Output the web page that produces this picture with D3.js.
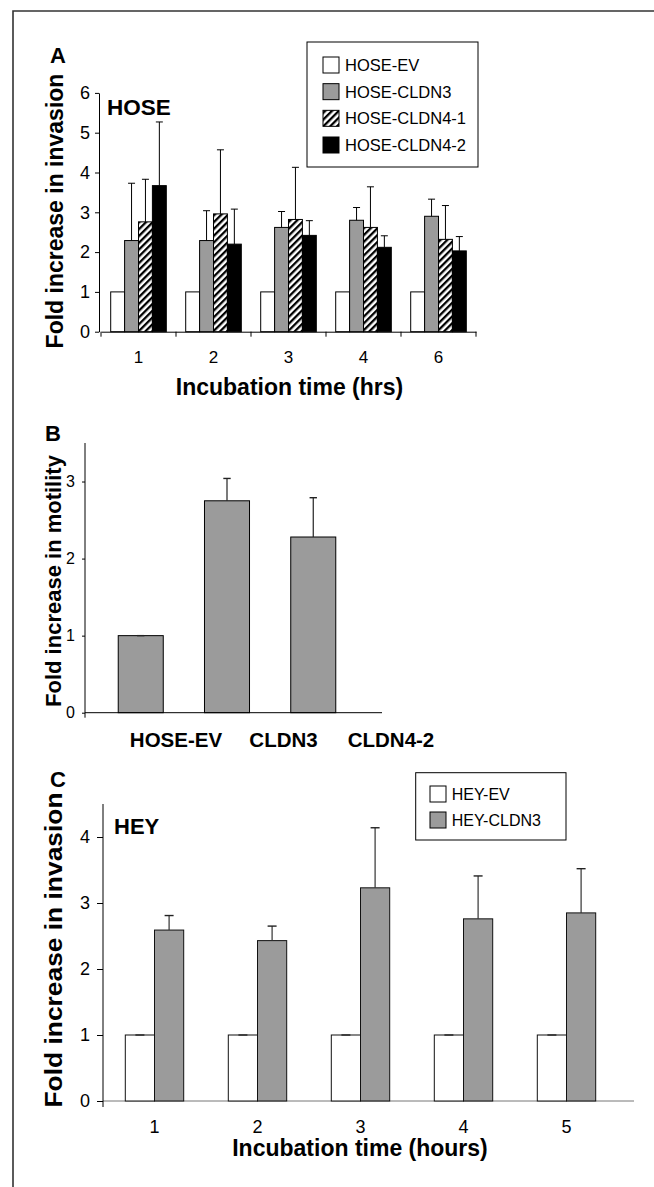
<!DOCTYPE html>
<html><head><meta charset="utf-8">
<script src="https://cdn.jsdelivr.net/npm/d3@7"></script>
<style>body{margin:0;background:#fff}svg{display:block}text{font-family:"Liberation Sans",Arial,sans-serif;fill:#000}</style>
</head><body><svg id="c" width="654" height="1187"></svg>
<script>
// ---------- DATA ----------
const timesA = ["1","2","3","4","6"];
const seriesA = ["HOSE-EV","HOSE-CLDN3","HOSE-CLDN4-1","HOSE-CLDN4-2"];
const evA = [1,1,1,1,1];
const cldn3A = [2.29,2.29,2.62,2.80,2.90];
const cldn3ErrA = [1.44,0.75,0.40,0.32,0.43];
const cldn41A = [2.76,2.96,2.82,2.62,2.32];
const cldn41ErrA = [1.07,1.61,1.31,1.02,0.85];
const cldn42A = [3.67,2.20,2.42,2.12,2.03];
const cldn42ErrA = [1.60,0.88,0.37,0.29,0.36];
const ticksA = [0,1,2,3,4,5,6];

const catsB = ["HOSE-EV","CLDN3","CLDN4-2"];
const meansB = [1,2.75,2.28];
const errsB = [0,0.29,0.51];
const ticksB = [0,1,2,3];

const timesC = ["1","2","3","4","5"];
const seriesC = ["HEY-EV","HEY-CLDN3"];
const evC = [1,1,1,1,1];
const evErrC = [0,0,0,0,0];
const cldn3C = [2.59,2.43,3.23,2.76,2.85];
const cldn3ErrC = [0.22,0.22,0.91,0.65,0.67];
const ticksC = [0,1,2,3,4];

// ---------- SETUP ----------
const svg = d3.select("#c");
const GRAY = "#9b9b9b";
const fmt = d3.format("d");
const defs = svg.append("defs");
const pat = defs.append("pattern").attr("id","hatch").attr("patternUnits","userSpaceOnUse")
  .attr("width",4.8).attr("height",4.8).attr("patternTransform","rotate(45)");
pat.append("rect").attr("width",4.8).attr("height",4.8).attr("fill","#fff");
pat.append("rect").attr("width",2.3).attr("height",4.8).attr("fill","#000");

// outer frame
svg.append("path").attr("d","M13,1200 L13,11 L700,11").attr("fill","none").attr("stroke","#333").attr("stroke-width",1.6);

const fills = {"HOSE-EV":"#fff","HOSE-CLDN3":GRAY,"HOSE-CLDN4-1":"url(#hatch)","HOSE-CLDN4-2":"#000","HEY-EV":"#fff","HEY-CLDN3":GRAY};
function styleTicks(sel, size){
  sel.selectAll("text").style("font-size",size+"px").style("font-family","'Liberation Sans',Arial,sans-serif").attr("fill","#000");
}

// ---------- PANEL A ----------
{
  const y = d3.scaleLinear().domain([0,6]).range([331.7,92.9]);
  const x = d3.scaleBand().domain(timesA).range([101,476]);
  const xi = d3.scaleBand().domain(seriesA).range([9.7,65.3]);
  const g = svg.append("g");
  const rows = [];
  const vals = [evA,cldn3A,cldn41A,cldn42A];
  const errs = [null,cldn3ErrA,cldn41ErrA,cldn42ErrA];
  timesA.forEach((t,i)=>seriesA.forEach((s,j)=>rows.push({t,s,v:vals[j][i],e:errs[j]?errs[j][i]:null})));
  g.selectAll("rect.bar").data(rows).join("rect").attr("class","bar")
    .attr("x",d=>x(d.t)+xi(d.s)).attr("width",xi.bandwidth())
    .attr("y",d=>y(d.v)).attr("height",d=>y(0)-y(d.v))
    .attr("fill",d=>fills[d.s]).attr("stroke","#000").attr("stroke-width",1);
  const eb = rows.filter(d=>d.e!==null);
  g.selectAll("line.ev").data(eb).join("line").attr("stroke","#000").attr("stroke-width",1)
    .attr("x1",d=>x(d.t)+xi(d.s)+xi.bandwidth()/2).attr("x2",d=>x(d.t)+xi(d.s)+xi.bandwidth()/2)
    .attr("y1",d=>y(d.v)).attr("y2",d=>y(d.v+d.e));
  g.selectAll("line.cap").data(eb).join("line").attr("stroke","#000").attr("stroke-width",1)
    .attr("x1",d=>x(d.t)+xi(d.s)+xi.bandwidth()/2-3.5).attr("x2",d=>x(d.t)+xi(d.s)+xi.bandwidth()/2+3.5)
    .attr("y1",d=>y(d.v+d.e)).attr("y2",d=>y(d.v+d.e));
  // y axis
  const ya = g.append("g").attr("transform",`translate(${x.range()[0]-2},0)`)
    .call(d3.axisLeft(y).tickValues(ticksA).tickFormat(fmt).tickSize(4).tickSizeOuter(0).tickPadding(5));
  styleTicks(ya,18);
  ya.selectAll("line,path").attr("stroke","#000");
  // x axis
  const xa = g.append("g").attr("transform",`translate(0,${y(0)})`)
    .call(d3.axisBottom(x).tickSize(0).tickPadding(19));
  xa.select("path").attr("stroke","#000");
  styleTicks(xa,17);
  const bounds = timesA.map(t=>x(t)).concat([x.range()[1]]);
  g.selectAll("line.xt").data(bounds).join("line").attr("stroke","#000")
    .attr("x1",d=>d).attr("x2",d=>d).attr("y1",y(0)).attr("y2",y(0)+5);
  g.append("text").attr("x",(x.range()[0]+x.range()[1])/2+1).attr("y",395).attr("text-anchor","middle")
    .attr("font-size",23).attr("font-weight","bold").text("Incubation time (hrs)");
  g.append("text").attr("transform","translate(63,211) rotate(-90)").attr("text-anchor","middle")
    .attr("font-size",23).attr("font-weight","bold").text("Fold increase in invasion");
  g.append("text").attr("x",50).attr("y",63).attr("font-size",22).attr("font-weight","bold").text("A");
  g.append("text").attr("x",107).attr("y",115).attr("font-size",22.5).attr("font-weight","bold").text("HOSE");
  // legend
  g.append("rect").attr("x",307).attr("y",42).attr("width",171).attr("height",125).attr("fill","#fff").attr("stroke","#000");
  const ly = d3.scalePoint().domain(seriesA).range([65,145]);
  const lg = g.selectAll("g.leg").data(seriesA).join("g").attr("transform",d=>`translate(323,${ly(d)})`);
  lg.append("rect").attr("x",0).attr("y",-8).attr("width",16).attr("height",16).attr("fill",d=>fills[d]).attr("stroke","#000");
  lg.append("text").attr("x",22).attr("y",6).attr("font-size",16.5).text(d=>d);
}

// ---------- PANEL B ----------
{
  const y = d3.scaleLinear().domain([0,3.5]).range([712.7,443]);
  const x = d3.scaleBand().domain(catsB).range([77,377]).paddingInner(0.478).paddingOuter(0.478);
  const xl = d3.scalePoint().domain(catsB).range([176,391]);
  const g = svg.append("g");
  const rows = catsB.map((c,i)=>({c,v:meansB[i],e:errsB[i]}));
  g.selectAll("rect.bar").data(rows).join("rect")
    .attr("x",d=>x(d.c)).attr("width",x.bandwidth()).attr("y",d=>y(d.v)).attr("height",d=>y(0)-y(d.v))
    .attr("fill",GRAY).attr("stroke","#000").attr("stroke-width",1);
  g.selectAll("line.ev").data(rows).join("line").attr("stroke","#222").attr("stroke-width",1.2)
    .attr("x1",d=>x(d.c)+x.bandwidth()/2).attr("x2",d=>x(d.c)+x.bandwidth()/2).attr("y1",d=>y(d.v)).attr("y2",d=>y(d.v+d.e));
  g.selectAll("line.cap").data(rows).join("line").attr("stroke","#222").attr("stroke-width",1.4)
    .attr("x1",d=>x(d.c)+x.bandwidth()/2-3.7).attr("x2",d=>x(d.c)+x.bandwidth()/2+3.7).attr("y1",d=>y(d.v+d.e)).attr("y2",d=>y(d.v+d.e));
  const ya = g.append("g").attr("transform","translate(85,0)")
    .call(d3.axisLeft(y).tickValues(ticksB).tickFormat(fmt).tickSize(3).tickSizeOuter(0).tickPadding(7));
  ya.select("path").attr("d",`M0,${y(3.5)}V${y(0)+5}`).attr("stroke","#000");
  styleTicks(ya,16);
  g.append("line").attr("x1",85).attr("x2",382).attr("y1",y(0)).attr("y2",y(0)).attr("stroke","#000");
  g.selectAll("text.lab").data(catsB).join("text").attr("x",d=>xl(d)).attr("y",747).attr("text-anchor","middle")
    .attr("font-size",20.5).attr("font-weight","bold").text(d=>d);
  g.append("text").attr("transform","translate(61,581) rotate(-90)").attr("text-anchor","middle")
    .attr("font-size",22).attr("font-weight","bold").text("Fold increase in motility");
  g.append("text").attr("x",45).attr("y",441).attr("font-size",22).attr("font-weight","bold").text("B");
}

// ---------- PANEL C ----------
{
  const y = d3.scaleLinear().domain([0,4.5]).range([1101,804]);
  const x = d3.scaleBand().domain(timesC).range([103,618]);
  const xi = d3.scaleBand().domain(seriesC).range([22.3,80.7]);
  const g = svg.append("g");
  const rows = [];
  timesC.forEach((t,i)=>{rows.push({t,s:"HEY-EV",v:evC[i],e:evErrC[i]});rows.push({t,s:"HEY-CLDN3",v:cldn3C[i],e:cldn3ErrC[i]});});
  g.append("line").attr("x1",103).attr("x2",634).attr("y1",y(0)).attr("y2",y(0)).attr("stroke","#777");
  g.selectAll("rect.bar").data(rows).join("rect")
    .attr("x",d=>x(d.t)+xi(d.s)).attr("width",xi.bandwidth()).attr("y",d=>y(d.v)).attr("height",d=>y(0)-y(d.v))
    .attr("fill",d=>fills[d.s]).attr("stroke","#111").attr("stroke-width",1);
  g.selectAll("line.ev").data(rows).join("line").attr("stroke","#333").attr("stroke-width",1.2)
    .attr("x1",d=>x(d.t)+xi(d.s)+xi.bandwidth()/2).attr("x2",d=>x(d.t)+xi(d.s)+xi.bandwidth()/2).attr("y1",d=>y(d.v)).attr("y2",d=>y(d.v+d.e));
  g.selectAll("line.cap").data(rows).join("line").attr("stroke","#222").attr("stroke-width",1.4)
    .attr("x1",d=>x(d.t)+xi(d.s)+xi.bandwidth()/2-4.5).attr("x2",d=>x(d.t)+xi(d.s)+xi.bandwidth()/2+4.5).attr("y1",d=>y(d.v+d.e)).attr("y2",d=>y(d.v+d.e));
  const ya = g.append("g").attr("transform","translate(103,0)")
    .call(d3.axisLeft(y).tickValues(ticksC).tickFormat(fmt).tickSize(6).tickSizeOuter(0).tickPadding(7));
  ya.select("path").attr("d",`M0,${y(4.5)}V${y(0)+6}`).attr("stroke","#000");
  styleTicks(ya,18);
  const xa = g.append("g").attr("transform",`translate(0,${y(0)})`).call(d3.axisBottom(x).tickSize(0).tickPadding(19));
  xa.select("path").remove();
  styleTicks(xa,18);
  g.append("text").attr("x",360).attr("y",1156).attr("text-anchor","middle")
    .attr("font-size",23).attr("font-weight","bold").text("Incubation time (hours)");
  g.append("text").attr("transform","translate(62,950) rotate(-90)").attr("text-anchor","middle")
    .attr("font-size",23).attr("font-weight","bold").attr("textLength",315).attr("lengthAdjust","spacingAndGlyphs").text("Fold increase in invasion");
  g.append("text").attr("x",50).attr("y",787).attr("font-size",22).attr("font-weight","bold").text("C");
  g.append("text").attr("x",114).attr("y",834).attr("font-size",22).attr("font-weight","bold").text("HEY");
  g.append("rect").attr("x",415.7).attr("y",772.7).attr("width",150.3).attr("height",67.3).attr("fill","#fff").attr("stroke","#000");
  const ly = d3.scalePoint().domain(seriesC).range([794,820]);
  const lg = g.selectAll("g.leg").data(seriesC).join("g").attr("transform",d=>`translate(430,${ly(d)})`);
  lg.append("rect").attr("x",0).attr("y",-8).attr("width",16).attr("height",16).attr("fill",d=>fills[d]).attr("stroke","#000");
  lg.append("text").attr("x",21.7).attr("y",6).attr("font-size",16).text(d=>d);
}
</script></body></html>
